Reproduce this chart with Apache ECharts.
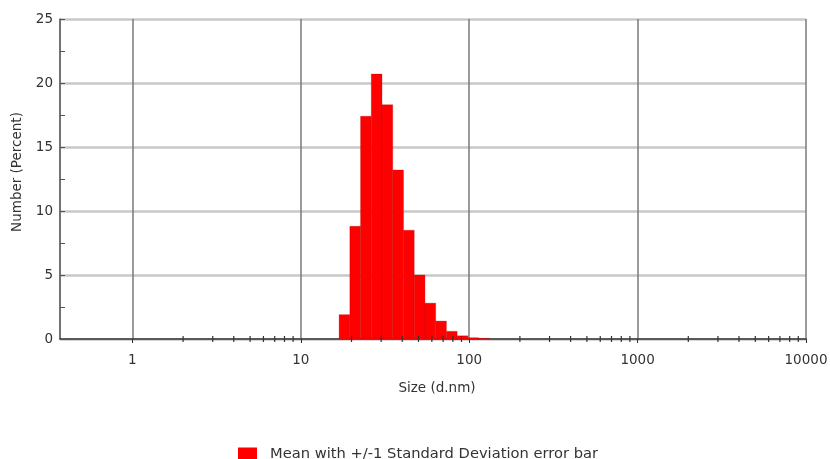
<!DOCTYPE html>
<html>
<head>
<meta charset="utf-8">
<script src="https://cdn.jsdelivr.net/npm/echarts@6/dist/echarts.min.js"></script>
<style>html,body{margin:0;padding:0;background:#fff}#c{width:830px;height:459px}</style>
</head>
<body>
<div id="c"></div>
<script>
// Size class centres (d.nm) and number percentages
var sizes = [18.17, 21.04, 24.36, 28.21, 32.67, 37.84, 43.82, 50.75, 58.77, 68.06, 78.82, 91.28, 105.7, 122.4];
var percents = [1.9, 8.8, 17.4, 20.7, 18.3, 13.2, 8.5, 5.0, 2.8, 1.4, 0.6, 0.25, 0.1, 0.05];
var binRatio = 1.1581; // ratio between neighbouring size classes
var xMin = 0.3716, xMax = 10000;
var minorTickValues = [2,3,4,5,6,7,8,9,20,30,40,50,60,70,80,90,200,300,400,500,600,700,800,900,2000,3000,4000,5000,6000,7000,8000,9000];
var seriesName = 'Mean with +/-1 Standard Deviation error bar';

var half = Math.sqrt(binRatio);
var barData = sizes.map(function (s, i) { return [s / half, s * half, percents[i]]; });

var chart = echarts.init(document.getElementById('c'));
var font = 'DejaVu Sans, sans-serif';
var fs = 13.5;
chart.setOption({
  animation: false,
  grid: { left: 60, right: 24, top: 19, bottom: 120, containLabel: false, outerBoundsMode: 'none' },
  legend: {
    left: 233, top: 442,
    itemWidth: 19, itemHeight: 14, icon: 'rect',
    textStyle: { fontFamily: font, fontSize: 14.7, color: '#333', padding: [0, 0, 0, 8] },
    data: [{ name: seriesName, itemStyle: { color: '#ff0000' } }]
  },
  xAxis: {
    type: 'log', logBase: 10, min: xMin, max: xMax,
    name: 'Size (d.nm)', nameLocation: 'middle', nameGap: 42,
    nameTextStyle: { fontFamily: font, fontSize: fs, color: '#333', padding: [0, 0, 0, 8] },
    axisLine: { lineStyle: { color: '#333', width: 1.5 } },
    axisTick: { show: true, length: 4, lineStyle: { color: '#333' } },
    axisLabel: {
      fontFamily: font, fontSize: fs, color: '#333', margin: 14, showMinLabel: false,
      formatter: function (v) {
        var l = Math.log10(v);
        return Math.abs(l - Math.round(l)) < 1e-6 ? String(Math.round(v)) : '';
      }
    },
    splitLine: { show: true, lineStyle: { color: '#7a7a7a', width: 1.5 } }
  },
  yAxis: {
    type: 'value', min: 0, max: 25, interval: 5,
    name: 'Number (Percent)', nameLocation: 'middle', nameGap: 35,
    nameTextStyle: { fontFamily: font, fontSize: fs, color: '#333', padding: [0, 0, 0, 14] },
    axisLine: { show: true, lineStyle: { color: '#666', width: 1.5 } },
    axisTick: { show: true, inside: true, length: 5, lineStyle: { color: '#555' } },
    minorTick: { show: true, splitNumber: 2, length: 5, lineStyle: { color: '#555' } },
    axisLabel: { fontFamily: font, fontSize: fs, color: '#333', margin: 7 },
    splitLine: { show: true, lineStyle: { color: '#c8c8c8', width: 2.5 } }
  },
  series: [
    {
      name: seriesName,
      type: 'custom',
      itemStyle: { color: '#ff0000' },
      renderItem: function (params, api) {
        var p0 = api.coord([api.value(0), 0]);
        var p1 = api.coord([api.value(1), api.value(2)]);
        return {
          type: 'rect',
          shape: { x: p0[0], y: p1[1], width: p1[0] - p0[0], height: p0[1] - p1[1] },
          style: { fill: '#ff0000', stroke: 'rgba(170,0,0,0.45)', lineWidth: 0.6 }
        };
      },
      encode: { x: [0, 1], y: 2 },
      data: barData,
      z: 3
    },
    {
      name: 'minorTicks',
      type: 'custom',
      silent: true,
      renderItem: function (params, api) {
        var p = api.coord([api.value(0), 0]);
        return {
          type: 'line',
          shape: { x1: p[0], y1: p[1] - 3, x2: p[0], y2: p[1] + 3 },
          style: { stroke: '#333', lineWidth: 1.2 }
        };
      },
      encode: { x: 0, y: 1 },
      data: minorTickValues.map(function (v) { return [v, 0]; }),
      z: 5
    }
  ]
});
</script>
</body>
</html>
